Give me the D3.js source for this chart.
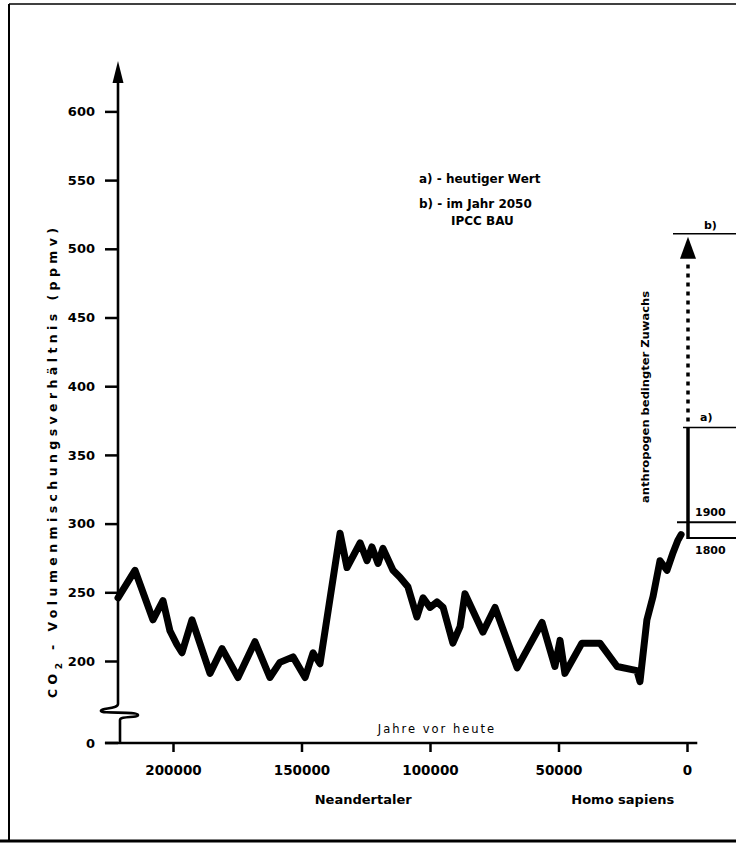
<!DOCTYPE html>
<html><head><meta charset="utf-8">
<script src="https://cdn.jsdelivr.net/npm/d3@7"></script>
<style>html,body{margin:0;padding:0;background:#fff;} svg{display:block}</style>
</head><body>
<svg id="c" width="736" height="844"></svg>
<script>
// ---- data (years before present, CO2 ppmv) ----
const years = [221400, 214800, 207800, 203900, 201200, 198500, 196500, 192600, 185600, 180900,
  174700, 168100, 162300, 158400, 153300, 148600, 145500, 142800, 135000, 132300,
  127200, 124500, 122600, 120200, 118300, 114400, 111700, 108600, 105100, 102700,
  100000, 97300, 94900, 91100, 88300, 86400, 79400, 74700, 66100, 56400,
  51400, 49400, 47500, 40900, 33900, 27200, 19500, 18300, 15600, 13200,
  10500, 7800, 5400, 3500, 2300];
const co2 = [246, 266, 230, 244, 222, 212, 206, 230, 191, 209,
  188, 214, 188, 199, 203, 188, 206, 198, 293, 268,
  286, 273, 283, 271, 282, 266, 261, 254, 232, 246,
  239, 243, 239, 213, 225, 249, 221, 239, 195, 228,
  196, 215, 191, 213, 213, 196, 193, 185, 230, 247,
  273, 266, 279, 288, 292];
const yTicks = [200, 250, 300, 350, 400, 450, 500, 550, 600];
const xTicks = [200000, 150000, 100000, 50000, 0];
const xTickLabels = ["200000", "150000", "100000", "50000", "0"];
const markValues = [511, 370, 301, 289.5];
const markLabels = ["b)", "a)", "1900", "1800"];
const legendLines = ["a) - heutiger Wert", "b) - im Jahr 2050", "IPCC BAU"];
const yTitle = ["CO", "2", " - Volumenmischungsverhältnis (ppmv)"];
const xTitle = "Jahre vor heute";
const groups = ["Neandertaler", "Homo sapiens"];
const groupYears = [126000, 25000];
const arrowText = "anthropogen bedingter Zuwachs";

const FONT = "'DejaVu Sans', sans-serif";
const svg = d3.select("#c");
const x = d3.scaleLinear().domain([200000, 0]).range([173, 687]);
const y = d3.scaleLinear().domain([200, 600]).range([661, 111.4]);

// frame
svg.append("line").attr("x1", 9).attr("y1", 4).attr("x2", 736).attr("y2", 4).attr("stroke", "#000").attr("stroke-width", 1.5);
svg.append("line").attr("x1", 9).attr("y1", 4).attr("x2", 9).attr("y2", 841).attr("stroke", "#000").attr("stroke-width", 2);
svg.append("line").attr("x1", 0).attr("y1", 841).attr("x2", 736).attr("y2", 841).attr("stroke", "#000").attr("stroke-width", 3);

// y axis
const yAxis = svg.append("g").attr("transform", "translate(118,0)")
  .call(d3.axisLeft(y).tickValues(yTicks).tickSize(13).tickPadding(10));
yAxis.select(".domain").remove();
yAxis.selectAll(".tick line").attr("stroke", "#000").attr("stroke-width", 2.5);
yAxis.selectAll(".tick text").attr("font-family", FONT).attr("font-weight", "bold").attr("font-size", 13).attr("fill", "#000");

// zero tick below break
svg.append("line").attr("x1", 105).attr("x2", 118).attr("y1", 743).attr("y2", 743).attr("stroke", "#000").attr("stroke-width", 2.5);
svg.append("text").attr("x", 95).attr("y", 743).attr("dy", "0.35em").attr("text-anchor", "end")
  .attr("font-family", FONT).attr("font-weight", "bold").attr("font-size", 13).text("0");

// y axis line with arrow and break
svg.append("path").attr("d", "M118,80 L118,704 C118,709 100,708 101,711 C102,714 138,711 138,715 C138,718 120,716 120,720 L120,743")
  .attr("fill", "none").attr("stroke", "#000").attr("stroke-width", 2.6);
svg.append("path").attr("d", "M118,61 L112.5,83 L123.5,83 Z").attr("fill", "#000");

// x axis
const xAxis = svg.append("g").attr("transform", "translate(0,743)")
  .call(d3.axisBottom(x).tickValues(xTicks).tickFormat((d, i) => xTickLabels[i]).tickSize(9).tickPadding(13));
xAxis.select(".domain").remove();
xAxis.selectAll(".tick line").attr("stroke", "#000").attr("stroke-width", 2.5);
xAxis.selectAll(".tick text").attr("font-family", FONT).attr("font-weight", "bold").attr("font-size", 13.5).attr("fill", "#000");
svg.append("line").attr("x1", x(226500)).attr("x2", x(-4000)).attr("y1", 743).attr("y2", 743).attr("stroke", "#000").attr("stroke-width", 2.6);

svg.append("text").attr("x", 437).attr("y", 733).attr("text-anchor", "middle")
  .attr("font-family", FONT).attr("font-size", 11.5).attr("letter-spacing", 2).text(xTitle);

svg.selectAll("text.grp").data(groups).enter().append("text").attr("class", "grp")
  .attr("x", (d, i) => x(groupYears[i])).attr("y", 804).attr("text-anchor", "middle")
  .attr("font-family", FONT).attr("font-weight", "bold").attr("font-size", 13).text(d => d);

// y title
const yt = svg.append("text").attr("transform", "translate(57,463) rotate(-90)").attr("text-anchor", "middle")
  .attr("font-family", FONT).attr("font-weight", "bold").attr("font-size", 12.5)
  .attr("textLength", 470).attr("lengthAdjust", "spacing");
yt.append("tspan").text(yTitle[0]);
yt.append("tspan").attr("baseline-shift", "sub").attr("font-size", 9).text(yTitle[1]);
yt.append("tspan").text(yTitle[2]);

// CO2 curve
const line = d3.line().x((d, i) => x(years[i])).y((d, i) => y(co2[i]));
svg.append("path").datum(co2).attr("d", line).attr("fill", "none").attr("stroke", "#000")
  .attr("stroke-width", 7).attr("stroke-linejoin", "round").attr("stroke-linecap", "round");

// legend
legendLines.forEach((t, i) => {
  svg.append("text").attr("x", i === 2 ? 451 : 419).attr("y", [183, 208, 225][i])
    .attr("font-family", FONT).attr("font-weight", "bold").attr("font-size", 12).text(t);
});

// right annotation: marker lines
const lineStarts = [673, 683, 677, 688];
markValues.forEach((v, i) => {
  svg.append("line").attr("x1", lineStarts[i]).attr("x2", 736).attr("y1", y(v)).attr("y2", y(v))
    .attr("stroke", "#000").attr("stroke-width", i >= 2 ? 2 : 1.5);
});
const labX = [704, 700, 695, 695];
const labDy = [-5, -6, -6, 16];
markValues.forEach((v, i) => {
  svg.append("text").attr("x", labX[i]).attr("y", y(v) + labDy[i])
    .attr("font-family", FONT).attr("font-weight", "bold").attr("font-size", 11).text(markLabels[i]);
});

// vertical solid bar from 1800 to today, dotted to 2050 with arrow
svg.append("line").attr("x1", 688).attr("x2", 688).attr("y1", y(markValues[1])).attr("y2", y(markValues[3]) + 1)
  .attr("stroke", "#000").attr("stroke-width", 3.5);
svg.append("line").attr("x1", 688).attr("x2", 688).attr("y1", y(markValues[1]) - 6).attr("y2", y(markValues[0]) + 28)
  .attr("stroke", "#000").attr("stroke-width", 3.5).attr("stroke-dasharray", "4,5");
svg.append("path").attr("d", `M688,${y(markValues[0]) + 3} L680,${y(markValues[0]) + 25} L696,${y(markValues[0]) + 25} Z`).attr("fill", "#000");

svg.append("text").attr("transform", "translate(649,397) rotate(-90)").attr("text-anchor", "middle")
  .attr("font-family", FONT).attr("font-weight", "bold").attr("font-size", 11).attr("textLength", 212)
  .attr("lengthAdjust", "spacingAndGlyphs").text(arrowText);
</script>
</body></html>
